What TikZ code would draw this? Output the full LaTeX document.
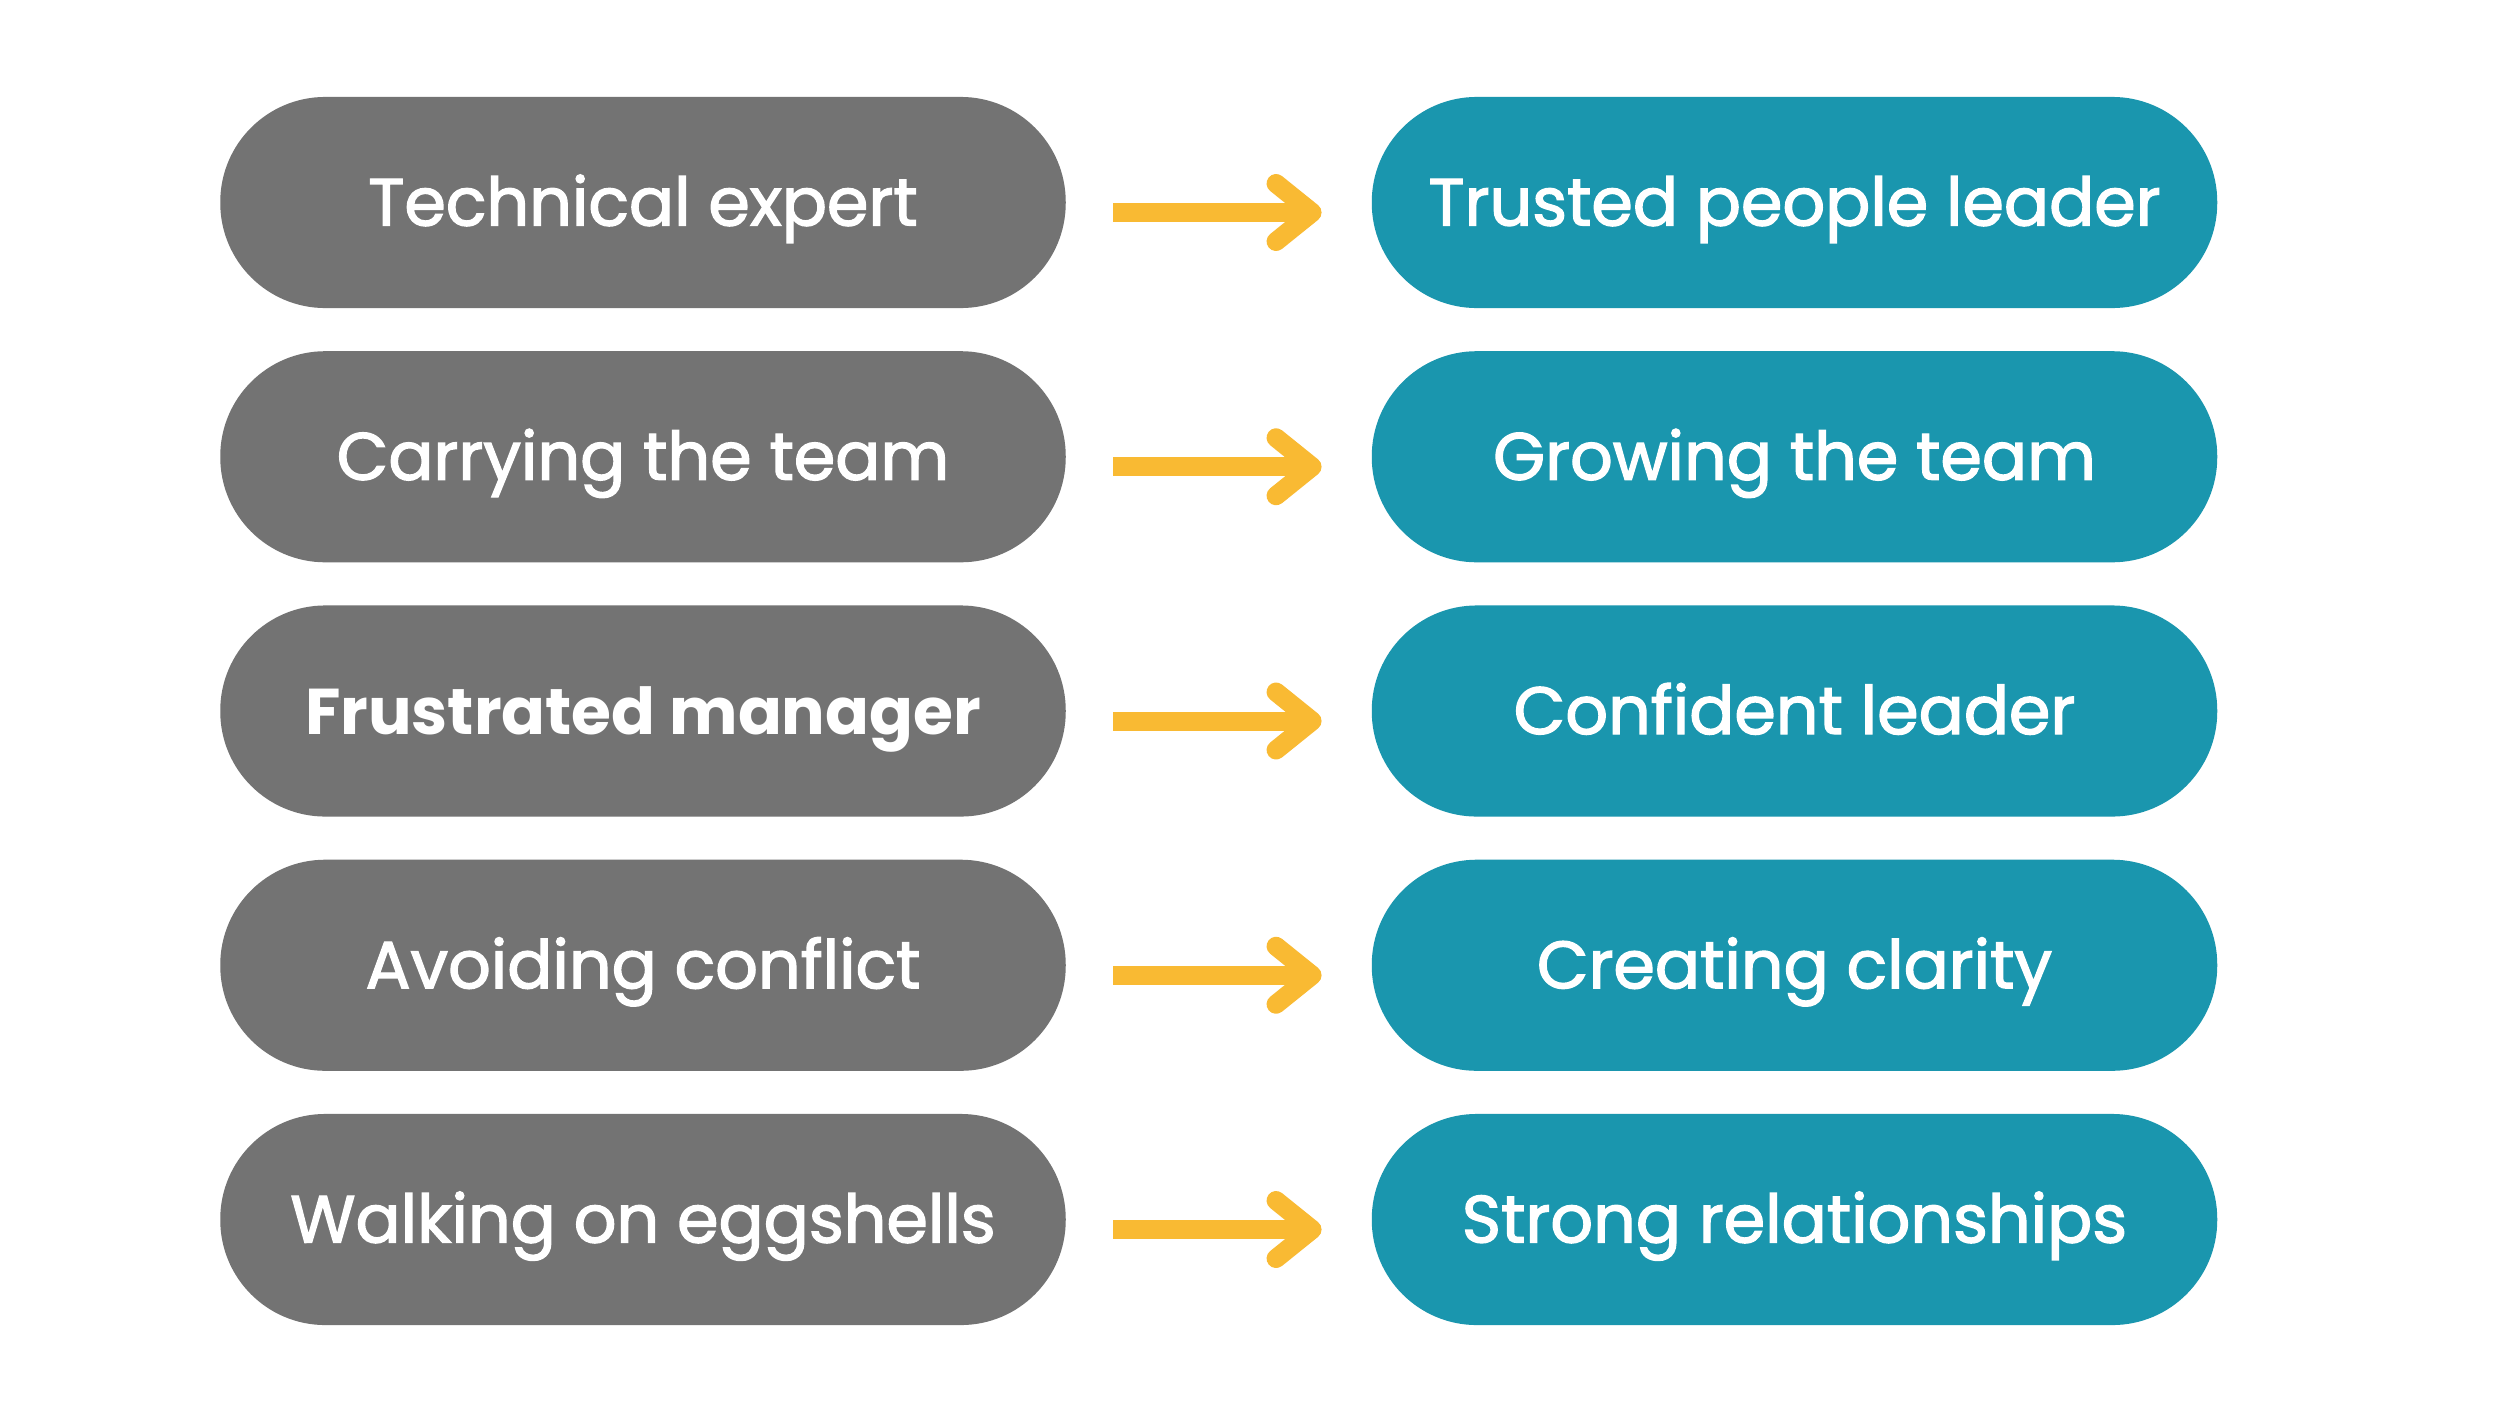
\documentclass[tikz,border=0pt]{standalone}
\usepackage{fontspec}
\setmainfont{Poppins}[UprightFeatures={FakeBold=2}]
\definecolor{pillgray}{HTML}{737373}
\definecolor{pillteal}{HTML}{1A96AE}
\definecolor{arrowyellow}{HTML}{F9BA33}
\begin{document}
\begin{tikzpicture}[x=0.01cm,y=-0.01cm,
  pill/.style={rectangle, rounded corners=1.05cm, minimum width=8.45cm, minimum height=2.11cm, inner sep=0pt, text height=0.46cm, text depth=0pt, text=white, font=\fontsize{19}{22}\selectfont},
  graypill/.style={pill, fill=pillgray},
  tealpill/.style={pill, fill=pillteal},
  shaft/.style={draw=arrowyellow, line width=0.19cm, line cap=butt},
  chev/.style={draw=arrowyellow, line width=0.19cm, line cap=round, line join=round}]
\useasboundingbox[fill=white] (0,0) rectangle (2500,1406);
\foreach \i/\a/\b in {0/{Technical expert}/{Trusted people leader},
                      1/{Carrying the team}/{Growing the team},
                      2/{\fontsize{18.4}{22}\selectfont\bfseries Frustrated manager}/{Confident leader},
                      3/{Avoiding conflict}/{Creating clarity},
                      4/{Walking on eggshells}/{Strong relationships}}{
  \pgfmathsetmacro\yy{202.5+254.25*\i}
  \node[graypill] (l\i) at (643,\yy) {\a};
  \node[tealpill] (r\i) at (1794.5,\yy) {\b};
  \coordinate (s\i) at ([shift={(47,10)}]l\i.east);
  \coordinate (e\i) at ([shift={(-59,10)}]r\i.west);
  \draw[shaft] (s\i) -- (e\i);
  \draw[chev] (e\i) ++(-36,-29) -- (e\i) -- ++(-36,29);
}
\end{tikzpicture}
\end{document}
